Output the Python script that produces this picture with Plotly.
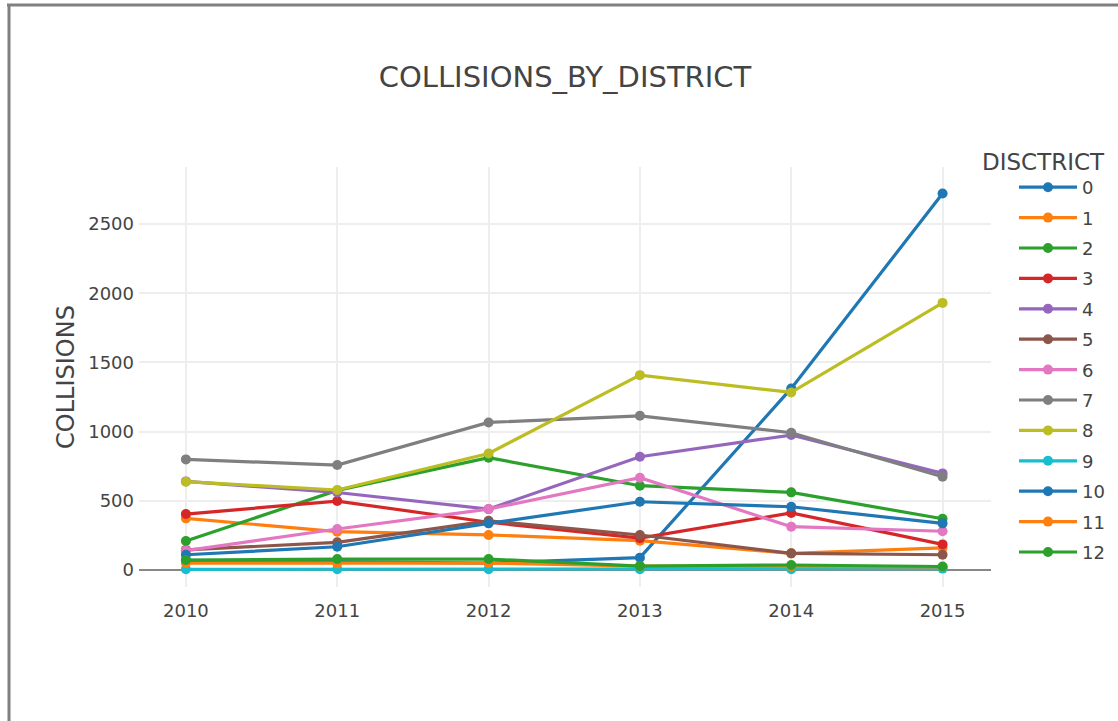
import plotly.graph_objects as go

years = [2010, 2011, 2012, 2013, 2014, 2015]
districts = ["0", "1", "2", "3", "4", "5", "6", "7", "8", "9", "10", "11", "12"]

d0 = [70, 60, 50, 89, 1312, 2720]
d1 = [373, 277, 253, 212, 120, 160]
d2 = [209, 575, 811, 609, 561, 370]
d3 = [404, 498, 345, 230, 412, 185]
d4 = [640, 560, 440, 818, 975, 698]
d5 = [145, 200, 355, 253, 120, 110]
d6 = [140, 296, 440, 667, 313, 280]
d7 = [799, 758, 1066, 1114, 992, 674]
d8 = [638, 578, 842, 1408, 1283, 1930]
d9 = [5, 5, 5, 5, 5, 10]
d10 = [110, 168, 337, 493, 457, 337]
d11 = [50, 48, 50, 28, 26, 22]
d12 = [72, 79, 79, 28, 36, 25]

series = [d0, d1, d2, d3, d4, d5, d6, d7, d8, d9, d10, d11, d12]
palette = ["#1f77b4", "#ff7f0e", "#2ca02c", "#d62728", "#9467bd", "#8c564b",
           "#e377c2", "#7f7f7f", "#bcbd22", "#17becf"]

W, H = 1118, 721
L, R, T, B = 139, 127, 167, 134
pw, ph = W - L - R, H - T - B


def px_x(x):
    return (x - L) / pw


def px_y(y):
    return (H - B - y) / ph


fig = go.Figure()
for i, (name, vals) in enumerate(zip(districts, series)):
    c = palette[i % len(palette)]
    fig.add_trace(go.Scatter(
        x=years, y=vals, name=name, mode="lines+markers", legendgroup=name,
        line=dict(color=c, width=3.2),
        marker=dict(color=c, size=10),
    ))

font = "DejaVu Sans, Verdana, sans-serif"

fig.update_layout(
    width=W, height=H,
    margin=dict(l=L, r=R, t=T, b=B, pad=0, autoexpand=False),
    paper_bgcolor="white", plot_bgcolor="white",
    font=dict(family=font, color="#444", size=19),
    title=dict(text="COLLISIONS_BY_DISTRICT", x=0.5, xref="paper",
               y=1 - 77 / H, yanchor="middle",
               font=dict(size=29, color="#444")),
    xaxis=dict(range=[2009.69, 2015.32], tickvals=years, ticktext=[str(y) for y in years],
               showgrid=True, gridcolor="#eeeeee", gridwidth=1.6,
               zeroline=False, showline=False, ticks="", ticklabelstandoff=11,
               tickfont=dict(size=18, color="#444")),
    yaxis=dict(range=[-123, 2912], tickvals=[0, 500, 1000, 1500, 2000, 2500],
               showgrid=True, gridcolor="#eeeeee", gridwidth=1.6,
               zeroline=True, zerolinecolor="#888", zerolinewidth=2,
               showline=False, ticks="", ticklabelstandoff=4,
               title=dict(text="COLLISIONS", font=dict(size=24, color="#444"), standoff=6),
               tickfont=dict(size=18, color="#444")),
    legend=dict(x=px_x(1014), y=px_y(169), xanchor="left", yanchor="top",
                font=dict(size=18, color="#444"), bgcolor="rgba(0,0,0,0)",
                itemwidth=58, tracegroupgap=4),
    annotations=[dict(text="DISCTRICT", x=px_x(1043), y=px_y(162), xref="paper", yref="paper",
                      xanchor="center", yanchor="middle", showarrow=False,
                      font=dict(size=23, color="#444"))],
    shapes=[
        dict(type="line", xref="paper", yref="paper", x0=px_x(7), x1=px_x(W + 5),
             y0=px_y(5), y1=px_y(5), line=dict(color="#808080", width=3)),
        dict(type="line", xref="paper", yref="paper", x0=px_x(9), x1=px_x(9),
             y0=px_y(4), y1=px_y(H + 5), line=dict(color="#808080", width=3)),
    ],
)

fig.write_html("out.html")
